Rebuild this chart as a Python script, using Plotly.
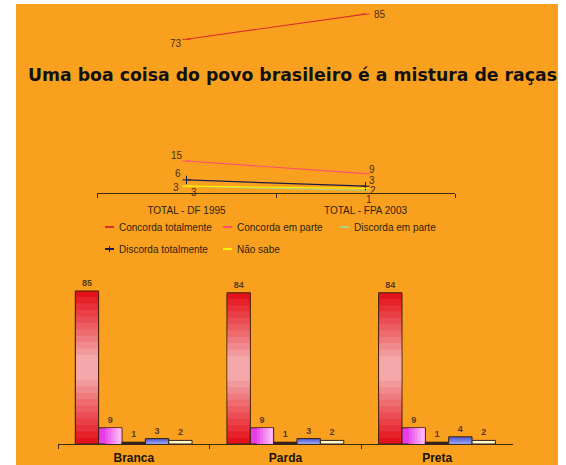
import plotly.graph_objects as go

W, H = 566, 465

# ---- trend (line chart) ----
periodos = ["TOTAL - DF 1995", "TOTAL - FPA 2003"]
respostas = ["Concorda totalmente", "Concorda em parte", "Discorda em parte",
             "Discorda totalmente", "Não sabe"]
concorda_totalmente = [73, 85]
concorda_em_parte = [15, 9]
discorda_em_parte = [3, 1]
discorda_totalmente = [6, 3]
nao_sabe = [3, 2]

# ---- by race (bar chart) ----
racas = ["Branca", "Parda", "Preta"]
raca_concorda_totalmente = [85, 84, 84]
raca_concorda_em_parte = [9, 9, 9]
raca_discorda_em_parte = [1, 1, 1]
raca_discorda_totalmente = [3, 3, 4]
raca_nao_sabe = [2, 2, 2]

ORANGE = "#F9A11F"
TXT = "#2e1e0c"
LBL = "#4a2c12"


def px_x(p):
    return p / W


def px_y(p):
    return 1 - p / H


def mix(c1, c2, t):
    a = [int(c1[i:i + 2], 16) for i in (1, 3, 5)]
    b = [int(c2[i:i + 2], 16) for i in (1, 3, 5)]
    return "#" + "".join(f"{round(x + (y - x) * t):02x}" for x, y in zip(a, b))


fig = go.Figure()
annotations = []

# line chart series, with label placement (anchor, xshift, yshift) per point
line_series = [
    (concorda_totalmente, "#D8302A", "line-ew", [("right", -3, -4), ("left", 6, 0)]),
    (concorda_em_parte, "#FF5070", "line-ew", [("right", -2, 6), ("left", 1, 4)]),
    (discorda_em_parte, "#B2D27A", "line-ew", [("left", 2, -6), ("center", 3, -9)]),
    (discorda_totalmente, "#1c1c4a", "cross-thin", [("right", -4, 6), ("left", 1, 6)]),
    (nao_sabe, "#FFF200", "line-ew", [("right", -6, -1), ("left", 2, -2)]),
]
for vals, color, sym, places in line_series:
    fig.add_trace(go.Scatter(
        x=periodos, y=vals, mode="lines+markers",
        line=dict(color=color, width=1.2),
        marker=dict(symbol=sym, size=6, color=color, line=dict(color=color, width=1)),
        xaxis="x", yaxis="y", showlegend=False, cliponaxis=False, hoverinfo="skip",
    ))
    for cat, v, (anc, dx, dy) in zip(periodos, vals, places):
        annotations.append(dict(
            x=cat, y=v, xref="x", yref="y", text=str(v), showarrow=False,
            xanchor=anc, yanchor="middle", xshift=dx, yshift=dy,
            font=dict(family="Liberation Sans", size=10, color=LBL)))

# bar chart series: (values, edge colour, inner colour, gradient direction, steps)
BW = 0.154
G0 = -0.386
bar_series = [
    (raca_concorda_totalmente, "#E4121A", "#F4A8AA", "mid", 10),
    (raca_concorda_em_parte, "#E83CE8", "#FAB8F6", "right", 5),
    (raca_discorda_em_parte, "#1e1e3c", None, None, 0),
    (raca_discorda_totalmente, "#5462D8", "#8C98EE", "low", 3),
    (raca_nao_sabe, "#FFFFD2", None, None, 0),
]
for i, (vals, c_edge, c_in, mode, n) in enumerate(bar_series):
    off = G0 + i * BW
    fig.add_trace(go.Bar(
        x=racas, y=vals, width=BW, offset=off,
        marker=dict(color=c_edge, line=dict(color="#3c1e0a", width=1)),
        text=[str(v) for v in vals], textposition="outside",
        textfont=dict(family="Liberation Sans", size=9, color="#5b3b1f", weight="bold"),
        cliponaxis=False, xaxis="x2", yaxis="y2", showlegend=False, hoverinfo="skip",
    ))
    for k in range(1, n + 1):
        c = mix(c_edge, c_in, k / n)
        w, o = BW * 0.93, off + BW * 0.035
        if mode == "mid":
            a = 0.04 + (k - 1) * 0.042
            base = [v * a for v in vals]
            hgt = [v * (1 - 2 * a) for v in vals]
        elif mode == "right":
            f = 0.15 + 0.8 * k / (n + 1)
            base = [0 for v in vals]
            hgt = [v * 0.97 for v in vals]
            o = off + BW * f
            w = BW * (0.965 - f)
        else:
            base = [0 for v in vals]
            hgt = [v * (1 - k / (n + 1)) for v in vals]
        fig.add_trace(go.Bar(
            x=racas, y=hgt, base=base, width=w, offset=o,
            marker=dict(color=c, line=dict(width=0)),
            xaxis="x2", yaxis="y2", showlegend=False, hoverinfo="skip",
        ))

# legend (drawn by hand in two rows)
shapes = [dict(type="rect", xref="paper", yref="paper", x0=px_x(16), x1=px_x(558),
               y0=0, y1=px_y(4), fillcolor=ORANGE, line=dict(width=0), layer="below")]
legend_items = [
    (respostas[0], "#D8302A", 105, 227, False),
    (respostas[1], "#FF5070", 223, 227, False),
    (respostas[2], "#B2D27A", 340, 227, False),
    (respostas[3], "#1c1c4a", 105, 249, True),
    (respostas[4], "#FFF200", 223, 249, False),
]
for name, color, x, y, cross in legend_items:
    shapes.append(dict(type="line", xref="paper", yref="paper",
                       x0=px_x(x), x1=px_x(x + 9), y0=px_y(y), y1=px_y(y),
                       line=dict(color=color, width=2)))
    if cross:
        shapes.append(dict(type="line", xref="paper", yref="paper",
                           x0=px_x(x + 4.5), x1=px_x(x + 4.5), y0=px_y(y - 3), y1=px_y(y + 3),
                           line=dict(color=color, width=1)))
    annotations.append(dict(text=name, xref="paper", yref="paper", x=px_x(x + 12), y=px_y(y),
                            xanchor="left", yanchor="middle", showarrow=False,
                            font=dict(family="Liberation Sans", size=10, color=TXT)))

annotations.append(dict(
    text="Uma boa coisa do povo brasileiro é a mistura de raças",
    xref="paper", yref="paper", x=px_x(292), y=px_y(75), xanchor="center", yanchor="middle",
    showarrow=False, font=dict(family="DejaVu Sans", size=17.3, color="#111111", weight="bold")))

fig.update_layout(
    width=W, height=H, margin=dict(l=0, r=0, t=0, b=0),
    paper_bgcolor="white", plot_bgcolor="rgba(0,0,0,0)",
    barmode="overlay", showlegend=False,
    shapes=shapes, annotations=annotations,
    xaxis=dict(domain=[px_x(97), px_x(455)], type="category", range=[-0.5, 1.5],
               showline=True, linecolor="#3a2a1a", linewidth=1, showgrid=False, zeroline=False,
               tickson="boundaries", ticks="outside", ticklen=4, tickcolor="#3a2a1a",
               ticklabelstandoff=8,
               tickfont=dict(family="Liberation Sans", size=10, color=TXT)),
    yaxis=dict(domain=[px_y(192.5), 1], range=[0, 91.7], visible=False),
    xaxis2=dict(domain=[px_x(58), px_x(513)], type="category", range=[-0.5, 2.5], anchor="y2",
                showline=True, linecolor="#3a2a1a", linewidth=1, showgrid=False, zeroline=False,
                tickson="boundaries", ticks="outside", ticklen=4, tickcolor="#3a2a1a",
                ticklabelstandoff=3,
                tickfont=dict(family="Liberation Sans", size=12, color="#1a1208", weight="bold")),
    yaxis2=dict(domain=[px_y(444), px_y(280)], range=[0, 91.1], visible=False, anchor="x2"),
)

fig.write_html("out.html")
